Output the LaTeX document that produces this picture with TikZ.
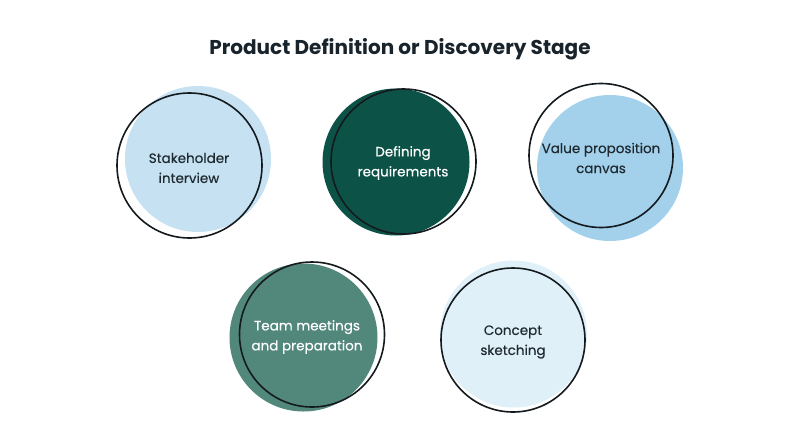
\documentclass[tikz,border=0pt]{standalone}
\usepackage{fontspec}
\setmainfont{Poppins}
\newfontfamily\medfont[FakeBold=0.35]{Poppins}
\definecolor{txt}{HTML}{1F2A30}
\definecolor{ttl}{HTML}{18232B}
\definecolor{lb}{HTML}{C5E1F2}
\definecolor{dg}{HTML}{0C5246}
\definecolor{mb}{HTML}{A3D0EB}
\definecolor{tg}{HTML}{52877B}
\definecolor{pb}{HTML}{E0F0F9}
\definecolor{ring}{HTML}{141A1E}
\tikzset{
  ringc/.style={draw=ring,line width=1.6pt},
  lbl/.style={align=center,font=\medfont\fontsize{13.5}{20}\selectfont,text=txt},
  lblw/.style={align=center,font=\medfont\fontsize{13.5}{20}\selectfont,text=white},
}
\begin{document}
\begin{tikzpicture}[x=1pt,y=-1pt]
\useasboundingbox[fill=white] (0,0) rectangle (800,445);
\node[font=\fontsize{20}{24}\selectfont\bfseries,text=ttl] (title) at (400,49) {Product Definition or Discovery Stage};
% 1
\fill[lb] (198,159) circle (73);
\draw[ringc] (189.5,165.5) circle (72.5);
\node[lbl] (c1) at (189,168) {Stakeholder\\interview};
% 2
\fill[dg] (396,162) circle (73.5);
\draw[ringc] (403.5,161.5) circle (72.5);
\node[lblw] (c2) at (403,163) {Defining\\requirements};
% 3
\fill[mb] (610,168) circle (73);
\draw[ringc] (601,155.5) circle (72);
\node[lbl] (c3) at (601,158) {Value proposition\\canvas};
% 4
\fill[tg] (303.5,337.5) circle (74);
\draw[ringc] (312,334.5) circle (72.5);
\node[lblw] (c4) at (307,337) {Team meetings\\and preparation};
% 5
\fill[pb] (513.5,334) circle (73.5);
\draw[ringc] (513,340) circle (72);
\node[lbl] (c5) at (513,342) {Concept\\sketching};
\end{tikzpicture}
\end{document}
